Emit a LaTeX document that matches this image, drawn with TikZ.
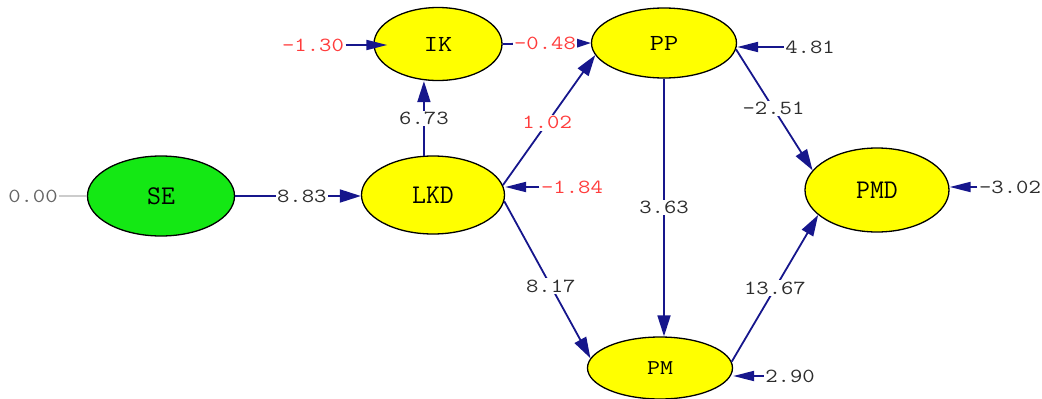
\documentclass[tikz,border=0pt]{standalone}
\usepackage{fontspec}
\newfontfamily\widemono{Latin Modern Mono}[FakeStretch=1.2]
\usetikzlibrary{shapes.geometric,arrows.meta,calc}
\definecolor{navy}{RGB}{22,22,140}
\definecolor{lblgray}{RGB}{45,45,45}
\definecolor{lblred}{RGB}{255,60,60}
\definecolor{ylw}{RGB}{255,255,0}
\definecolor{grn}{RGB}{20,232,20}
\tikzset{
  var/.style={ellipse, draw=black, line width=1.3pt, fill=ylw, inner sep=0pt, font=\ttfamily},
  big/.style={font=\fontsize{27}{27}\selectfont\ttfamily},
  mid/.style={font=\fontsize{23}{23}\selectfont\widemono},
  small/.style={font=\fontsize{21}{21}\selectfont\widemono},
  lbl/.style={fill=white, inner sep=1.5pt, text=lblgray, font=\fontsize{20}{20}\selectfont\widemono},
  rlbl/.style={lbl, text=lblred},
  path/.style={draw=navy, line width=1.8pt, -{Triangle[length=21pt,width=13pt]}},
  err/.style={draw=navy, line width=1.8pt, -{Triangle[length=21pt,width=10pt]}},
}
\begin{document}
\begin{tikzpicture}[x=1pt,y=-1pt]
\useasboundingbox (0,0) rectangle (1042,399);
% nodes
\node[var, fill=grn, big, minimum width=147pt, minimum height=80pt] (se) at (161,196) {SE};
\node[var, big, minimum width=143pt, minimum height=78pt] (lkd) at (433,195) {LKD};
\node[var, mid, minimum width=128pt, minimum height=73pt] (ik) at (438,44) {IK};
\node[var, mid, minimum width=145pt, minimum height=70pt] (pp) at (664,43) {PP};
\node[var, big, minimum width=144pt, minimum height=84pt] (pmd) at (877,190) {PMD};
\node[var, small, minimum width=145pt, minimum height=62pt] (pm) at (660,368) {PM};
% error labels
\node[lbl, text=gray!80!black] (e0) at (33,196) {0.00};
\node[rlbl] (e130) at (313,45) {-1.30};
\node[rlbl] (e184) at (572,187) {-1.84};
\node[lbl] (e481) at (810,47) {4.81};
\node[lbl] (e302) at (1010,187) {-3.02};
\node[lbl] (e290) at (790,376) {2.90};
% error arrows
\draw[draw=gray!40, line width=1.8pt] (e0.east) -- (e0.east -| se.west);
\draw[err, shorten >=-14pt] (e130.east) -- (ik.west |- e130.east);
\draw[err] (e184.west) -- (e184.west -| lkd.east);
\draw[err] (e481.west) -- (e481.west -| pp.east);
\draw[err] (e302.west) -- (e302.west -| pmd.east);
\draw[err] (e290.west) -- (e290.west -| pm.east);
% structural paths
\draw[path] (se.east) -- node[lbl, pos=0.53] (l883) {8.83} (se.east -| lkd.west);
\draw[path] (lkd.103) -- node[lbl, pos=0.5] (l673) {6.73} (lkd.103 |- ik.south);
\draw[path] (ik.east) -- node[rlbl, pos=0.48] (l048) {-0.48} (pp.west);
\draw[path] (lkd.8) -- node[rlbl, pos=0.48] (l102) {1.02} (pp.190);
\draw[path] (lkd.-5) -- node[lbl, pos=0.54] (l817) {8.17} (pm.172);
\draw[path] (pp.south) -- node[lbl, pos=0.5] (l363) {3.63} (pp.south |- pm.north);
\draw[path] (pp.-5) -- node[lbl, pos=0.49] (l251) {-2.51} (pmd.163);
\draw[path] (pm.5) -- node[lbl, pos=0.5] (l1367) {13.67} (pmd.203);
\end{tikzpicture}
\end{document}
